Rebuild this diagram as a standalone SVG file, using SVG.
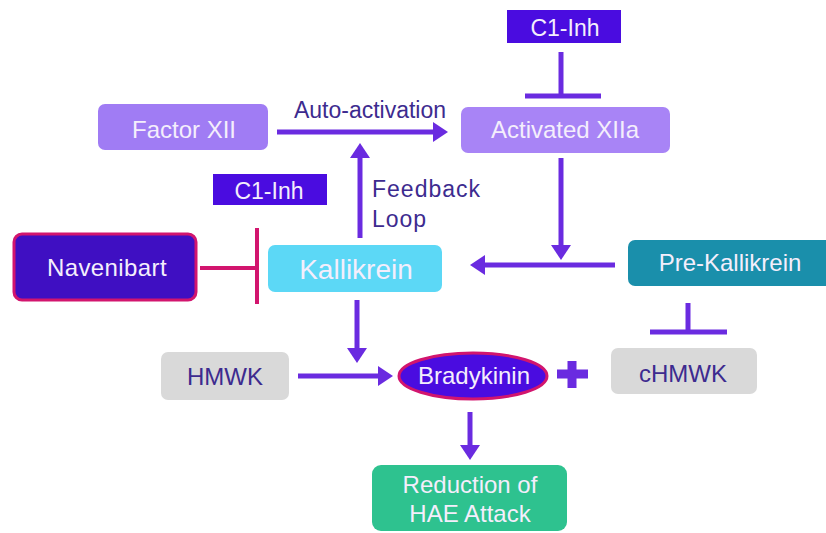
<svg xmlns="http://www.w3.org/2000/svg" width="826" height="533" viewBox="0 0 826 533">
<defs>
<style>
text{font-family:"Liberation Sans",Arial,sans-serif;text-anchor:middle}
.w{fill:#f4eefc}
.d{fill:#3d2b8f}
.c{stroke:#6a2be0;stroke-width:5;fill:none}
.m{stroke:#d2156e;stroke-width:4;fill:none}
</style>
<marker id="ah" markerWidth="3" markerHeight="4" refX="1" refY="2" orient="auto" markerUnits="strokeWidth" viewBox="0 0 3 4">
<path d="M0,0 L3,2 L0,4 z" fill="#6a2be0"/>
</marker>
</defs>
<rect width="826" height="533" fill="#ffffff"/>
<g id="connectors">
<line class="c" x1="277" y1="132" x2="438" y2="132" marker-end="url(#ah)"/>
<text x="370" y="118" font-size="23" class="d">Auto-activation</text>
<line class="c" x1="360" y1="238" x2="360" y2="153" marker-end="url(#ah)"/>
<text x="372" y="197" font-size="23" class="d" style="text-anchor:start;letter-spacing:1px">Feedback</text>
<text x="372" y="227" font-size="23" class="d" style="text-anchor:start;letter-spacing:1px">Loop</text>
<line class="c" x1="561" y1="52" x2="561" y2="96"/>
<line class="c" x1="525" y1="96" x2="601" y2="96" stroke-width="4"/>
<line class="c" x1="561" y1="158" x2="561" y2="250" marker-end="url(#ah)"/>
<line class="c" x1="615" y1="265" x2="480" y2="265" marker-end="url(#ah)"/>
<line class="m" x1="200" y1="268" x2="257" y2="268" stroke-width="5"/>
<line class="m" x1="257" y1="228" x2="257" y2="304" stroke-width="3"/>
<line class="c" x1="357" y1="300" x2="357" y2="353" marker-end="url(#ah)"/>
<line class="c" x1="298" y1="376" x2="383" y2="376" marker-end="url(#ah)"/>
<line class="c" x1="688" y1="303" x2="688" y2="332"/>
<line class="c" x1="650" y1="332" x2="727" y2="332" stroke-width="4"/>
<line class="c" x1="470" y1="412" x2="470" y2="450" marker-end="url(#ah)"/>
</g>
<g id="c1inh-top">
<rect x="507" y="10" width="114" height="33" fill="#4a0ce0"/>
<text x="565" y="36" font-size="23" class="w">C1-Inh</text>
</g>
<g id="factor-xii">
<rect x="98" y="104" width="170" height="46" rx="7" fill="#a07cf4"/>
<text x="184" y="138" font-size="24" class="w">Factor XII</text>
</g>
<g id="activated-xiia">
<rect x="461" y="107" width="209" height="46" rx="7" fill="#a884f6"/>
<text x="565" y="138" font-size="24" class="w">Activated XIIa</text>
</g>
<g id="c1inh-mid">
<rect x="213" y="174" width="114" height="31" fill="#4a0ce0"/>
<text x="269" y="199" font-size="23" class="w">C1-Inh</text>
</g>
<g id="navenibart">
<rect x="14" y="234" width="182" height="66" rx="8" fill="#3f0fc2" stroke="#d2156e" stroke-width="3"/>
<text x="107" y="276" font-size="24" class="w" style="letter-spacing:0.4px">Navenibart</text>
</g>
<g id="kallikrein">
<rect x="268" y="245" width="174" height="47" rx="7" fill="#5cd8f6"/>
<text x="356" y="279" font-size="28" class="w">Kallikrein</text>
</g>
<g id="pre-kallikrein">
<rect x="628" y="240" width="204" height="46" rx="7" fill="#1a8fab"/>
<text x="730" y="271" font-size="24" class="w">Pre-Kallikrein</text>
</g>
<g id="hmwk">
<rect x="161" y="352" width="128" height="48" rx="7" fill="#d9d9d9"/>
<text x="225" y="385" font-size="24" class="d">HMWK</text>
</g>
<g id="bradykinin">
<ellipse cx="473" cy="376" rx="74" ry="23" fill="#4a0ce0" stroke="#d2156e" stroke-width="3"/>
<text x="474" y="384" font-size="24" class="w">Bradykinin</text>
</g>
<g id="plus">
<path d="M557,374 H588 M572,361 V388" stroke="#6a2be0" stroke-width="9" fill="none"/>
</g>
<g id="chmwk">
<rect x="611" y="348" width="146" height="46" rx="7" fill="#d9d9d9"/>
<text x="683" y="382" font-size="24" class="d">cHMWK</text>
</g>
<g id="reduction">
<rect x="372" y="465" width="195" height="66" rx="9" fill="#2ec28f"/>
<text x="470" y="493" font-size="24" class="w">Reduction of</text>
<text x="470" y="522" font-size="24" class="w">HAE Attack</text>
</g>
</svg>
